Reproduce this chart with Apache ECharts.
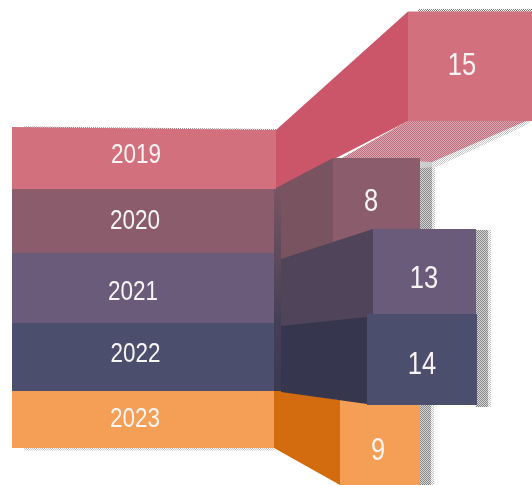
<!DOCTYPE html>
<html>
<head>
    <meta charset="UTF-8">
    <title>2019-2023</title>
    <script type="text/javascript" src="https://cdn.jsdelivr.net/npm/echarts@6/dist/echarts.min.js"></script>
</head>
<body style="margin: 0;overflow: hidden;background: #fff;width: 532px;height: 485px;position: absolute;top: 0;">
<div id="chart" style="width: 532px;height: 485px"></div>
<script type="text/javascript">
    var years = ['2019', '2020', '2021', '2022', '2023'];
    var values = [15, 8, 13, 14, 9];

    // extents of each ribbon, in axis units
    var bandEdges = [130, 189, 253, 323, 391, 448];
    var bandEnd = [276, 274, 274, 274, 274];
    var boxLeft = [408, 333, 373, 367, 340];
    var boxRight = [532, 420, 476, 477, 420];
    var boxTop = [11.5, 158, 229, 314, 400];
    var boxBottom = [121, 250, 314, 405, 485];
    var sideStart = [276, 274, 281, 281, 274];
    var sideStartTop = [130, 189, 259, 326, 389];
    var sideStartBottom = [189, 265, 332, 392, 448];
    var sideEndTop = [11.5, 158, 229, 317, 400];
    var sideEndBottom = [121, 250, 322, 404, 485];
    var yearLabelX = [136, 135, 133, 135.5, 135];
    var yearLabelY = [155.5, 221.5, 292.5, 354.5, 419.5];
    var valueLabelX = [462, 371, 424, 422, 378];
    var valueLabelY = [66.5, 202.5, 279.5, 365.5, 451.5];
    var drawOrder = [0, 1, 4, 2, 3];

    var frontColors = ['#D2707D', '#8B5C6C', '#6B5B7B', '#4B4E6D', '#F49F55'];
    var sideColors = ['#CC5669', '#7A5361', '#4F4459', '#36374E', '#D26C0E'];

    var bandLeft = 12;
    var textFont = '"Liberation Sans", Arial, sans-serif';

    function stipple(color) {
        var c = document.createElement('canvas');
        c.width = c.height = 2;
        var ctx = c.getContext('2d');
        ctx.fillStyle = color;
        ctx.fillRect(0, 0, 1, 1);
        ctx.fillRect(1, 1, 1, 1);
        return {image: c, repeat: 'repeat'};
    }
    var grayDots = stipple('#858585');
    var lightDots = stipple('#c4c4c4');
    var pinkDots = stipple('#bd7080');

    function poly(api, pts, fill, z2) {
        return {
            type: 'polygon',
            z2: z2 || 0,
            shape: {points: pts.map(function (p) { return api.coord(p); })},
            style: {fill: fill}
        };
    }

    function label(api, x, y, text, size) {
        var p = api.coord([x, y]);
        return {
            type: 'text',
            z2: 20,
            x: p[0],
            y: p[1],
            scaleY: 1.22,
            style: {
                text: text,
                fill: '#f7f4f4',
                font: size + 'px ' + textFont,
                align: 'center',
                verticalAlign: 'middle',
                shadowColor: 'rgba(40,30,40,0.7)',
                shadowBlur: 2,
                shadowOffsetX: 1,
                shadowOffsetY: 1
            }
        };
    }

    function renderShadows(params, api) {
        var els = [];
        // soft fringe first, then the denser body
        [[lightDots, 3], ['rgba(175,175,175,0.5)', 0], [grayDots, 0]].forEach(function (s) {
            var d = s[1];
            els.push(poly(api, [[420, 162], [432 + d, 162], [432 + d, 230], [420, 230]], s[0]));
            els.push(poly(api, [[476, 230], [488 + d, 230], [488 + d, 407], [476, 407]], s[0]));
            els.push(poly(api, [[420, 405], [431 + d, 405], [431 + d, 485], [420, 485]], s[0]));
        });
        els.push(poly(api, [[418, 9], [532, 9], [532, 12], [418, 12]], grayDots));
        els.push(poly(api, [[24, 126.5], [276, 129], [276, 131], [24, 128]], grayDots));
        els.push(poly(api, [[24, 448], [274, 448], [274, 450.5], [24, 450.5]], lightDots));
        els.push(poly(api, [[410, 121], [532, 121], [522, 127], [436, 167], [420, 168], [336, 161]], lightDots));
        els.push(poly(api, [[408, 121], [526, 121], [432, 162], [342, 158]], 'rgba(205,135,148,0.75)'));
        els.push(poly(api, [[408, 121], [526, 121], [432, 162], [342, 158]], pinkDots));
        return {type: 'group', children: els};
    }

    function renderBand(params, api) {
        var i = api.value(0);
        var top = bandEdges[i], bottom = bandEdges[i + 1];
        var topLeft = i === 0 ? 127 : top;
        var els = [poly(api, [[bandLeft, topLeft], [bandEnd[i], top], [bandEnd[i], bottom], [bandLeft, bottom]], frontColors[i])];
        els.push(label(api, yearLabelX[i], yearLabelY[i], years[i], 22.5));
        return {type: 'group', children: els};
    }

    function renderBox(params, api) {
        var i = api.value(0);
        var top = bandEdges[i], bottom = bandEdges[i + 1];
        var els = [];
        els.push(poly(api, [
            [boxLeft[i], boxTop[i]],
            [boxRight[i], boxTop[i]],
            [boxRight[i], boxBottom[i]],
            [boxLeft[i], boxBottom[i]]
        ], frontColors[i]));
        els.push(poly(api, [
            [sideStart[i], sideStartTop[i]],
            [boxLeft[i], sideEndTop[i]],
            [boxLeft[i], sideEndBottom[i]],
            [sideStart[i], sideStartBottom[i]]
        ], sideColors[i]));
        // narrow fold between the flat ribbon and its side panel
        if (i > 0 && i < 4) {
            var fold = poly(api, [[274, top], [281, top], [281, bottom], [274, bottom]], {
                type: 'linear', x: 0, y: 0, x2: 0, y2: 1,
                colorStops: [
                    {offset: 0, color: i === 1 ? '#7A5361' : i === 2 ? '#5F4B5D' : '#443F56'},
                    {offset: 1, color: i === 1 ? '#5F4B5D' : i === 2 ? '#443F56' : '#3A3A50'}
                ]
            });
            els.push(fold);
        }
        els.push(label(api, valueLabelX[i], valueLabelY[i], String(values[i]), 25.5));
        return {type: 'group', children: els};
    }

    var chart = echarts.init(document.getElementById('chart'));
    chart.setOption({
        animation: false,
        backgroundColor: '#fff',
        grid: {left: 0, right: 0, top: 0, bottom: 0},
        xAxis: {type: 'value', min: 0, max: 532, show: false},
        yAxis: {type: 'value', min: 0, max: 485, inverse: true, show: false},
        series: [{
            type: 'custom',
            silent: true,
            z: 1,
            renderItem: renderShadows,
            data: [[0]]
        }, {
            type: 'custom',
            silent: true,
            z: 2,
            renderItem: renderBox,
            data: drawOrder.map(function (i) { return [i, values[i]]; })
        }, {
            type: 'custom',
            silent: true,
            z: 3,
            renderItem: renderBand,
            data: years.map(function (y, i) { return [i, values[i]]; })
        }]
    });
</script>
</body>
</html>
